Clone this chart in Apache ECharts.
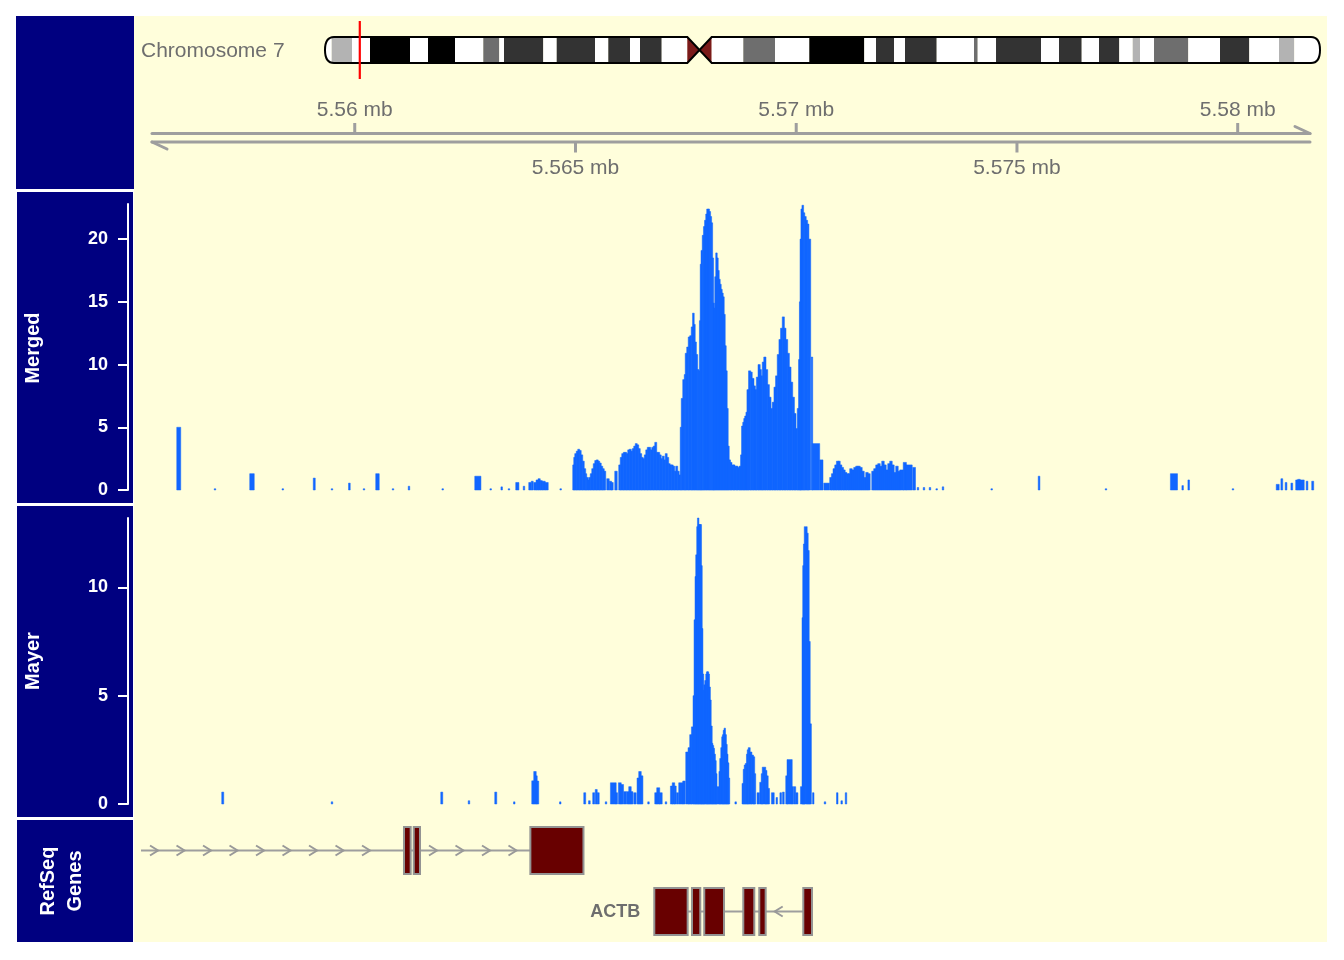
<!DOCTYPE html>
<html>
<head>
<meta charset="utf-8">
<script src="https://cdn.jsdelivr.net/npm/echarts@6/dist/echarts.min.js"></script>
<style>
html,body{margin:0;padding:0;background:#ffffff;}
#chart{width:1344px;height:960px;}
</style>
</head>
<body>
<div id="chart"></div>
<script>
// ---------------- DATA ----------------
const chromName = 'Chromosome 7';
const windowFromKb = 5555;   // plotted window (kb)
const windowToKb = 5582;

const axisTickValues = [5560, 5565, 5570, 5575, 5580];   // kb
const axisTickLabels = ['5.56 mb', '5.565 mb', '5.57 mb', '5.575 mb', '5.58 mb'];

const trackTitles = ['Merged', 'Mayer', 'RefSeq\nGenes'];

// chromosome 7 bands (Mb)
const bandStart = [0, 1.073, 4.324, 7.207, 13.613, 16.495, 20.820, 25.352, 27.914, 28.667, 34.961, 37.107, 43.241, 45.370, 48.846, 50.447, 53.923, 58.022, 59.976, 61.930, 66.991, 72.068, 77.561, 86.369, 88.243, 91.125, 92.887, 97.964, 103.937, 104.530, 107.461, 114.667, 117.550, 121.186, 123.956, 127.207, 129.353, 130.522, 132.764, 138.257, 143.334, 148.026, 152.783, 155.233];
const bandEnd = [1.073, 4.324, 7.207, 13.613, 16.495, 20.820, 25.352, 27.914, 28.667, 34.961, 37.107, 43.241, 45.370, 48.846, 50.447, 53.923, 58.022, 59.976, 61.930, 66.991, 72.068, 77.561, 86.369, 88.243, 91.125, 92.887, 97.964, 103.937, 104.530, 107.461, 114.667, 117.550, 121.186, 123.956, 127.207, 129.353, 130.522, 132.764, 138.257, 143.334, 148.026, 152.783, 155.233, 159.346];
const bandStain = ['gneg','gpos25','gneg','gpos100','gneg','gpos100','gneg','gpos50','gneg','gpos75','gneg','gpos75','gneg','gpos75','gneg','gpos75','gneg','acen','acen','gneg','gpos50','gneg','gpos100','gneg','gpos75','gneg','gpos75','gneg','gpos50','gneg','gpos75','gneg','gpos75','gneg','gpos75','gneg','gpos25','gneg','gpos50','gneg','gpos75','gneg','gpos25','gneg'];

// Merged coverage: value applies from break[i] to break[i+1] (kb); 0 = empty
const mergedBreaks = [5555.974,5556.053,5556.823,5556.846,5557.627,5557.718,5558.359,5558.382,5559.066,5559.100,5559.473,5559.496,5559.865,5559.892,5560.198,5560.221,5560.481,5560.549,5560.855,5560.878,5561.217,5561.240,5561.981,5562.003,5562.724,5562.853,5563.068,5563.091,5563.317,5563.340,5563.482,5563.505,5563.652,5563.713,5563.822,5563.845,5563.947,5563.992,5564.003,5564.037,5564.060,5564.105,5564.112,5564.151,5564.157,5564.196,5564.203,5564.241,5564.248,5564.309,5564.316,5564.377,5564.653,5564.676,
5564.943,5564.966,5564.989,5565.023,5565.057,5565.090,5565.124,5565.159,5565.193,5565.226,5565.249,5565.283,5565.306,5565.340,5565.374,5565.408,5565.442,5565.476,5565.510,5565.544,5565.578,5565.612,5565.646,5565.680,5565.713,5565.759,5565.770,5565.811,5565.849,5565.895,5565.940,
5565.985,5566.019,5566.053,5566.087,5566.121,5566.155,5566.189,5566.223,5566.257,5566.291,5566.325,5566.359,5566.393,5566.427,5566.461,5566.495,5566.529,5566.563,5566.597,5566.631,5566.665,5566.699,5566.733,5566.767,5566.801,5566.835,5566.869,5566.903,5566.937,5566.971,5567.005,5567.038,5567.072,5567.106,5567.140,5567.174,5567.208,5567.242,5567.276,5567.310,5567.344,
5567.378,5567.401,5567.435,5567.469,5567.491,5567.525,5567.559,5567.593,5567.627,5567.657,5567.684,5567.707,5567.734,5567.763,5567.790,5567.813,5567.831,5567.849,5567.877,5567.904,5567.929,5567.956,5567.978,5568.006,5568.031,5568.055,5568.078,5568.101,5568.119,5568.137,5568.160,5568.182,5568.205,5568.228,5568.250,5568.273,5568.296,5568.318,5568.341,5568.364,5568.386,5568.409,5568.431,5568.454,5568.477,
5568.506,5568.540,5568.574,5568.608,5568.642,5568.676,5568.710,5568.744,5568.767,5568.794,5568.817,5568.839,5568.866,5568.889,5568.925,5568.964,5568.998,5569.038,5569.070,5569.102,5569.140,5569.179,5569.206,5569.236,5569.270,5569.310,5569.349,5569.387,5569.424,5569.462,5569.501,5569.537,5569.575,5569.614,5569.650,5569.689,5569.727,5569.763,5569.802,5569.840,5569.877,5569.915,5569.954,5569.990,
5570.028,5570.058,5570.078,5570.092,5570.112,5570.135,5570.162,5570.189,5570.221,5570.253,5570.282,5570.323,5570.345,5570.368,5570.526,5570.538,5570.601,5570.629,5570.748,5570.764,5570.803,5570.839,5570.878,5570.916,5570.952,5570.991,5571.029,5571.066,5571.104,5571.143,5571.179,5571.217,5571.263,5571.308,5571.353,5571.399,5571.444,5571.489,5571.535,5571.580,5571.625,5571.670,
5571.716,5571.761,5571.806,5571.852,5571.897,5571.942,5571.988,5572.033,5572.078,5572.123,5572.169,5572.214,5572.259,5572.305,5572.350,5572.429,5572.490,5572.622,5572.644,5572.696,5572.746,5572.769,5572.882,5572.905,5573.018,5573.041,5573.170,5573.192,5573.313,5573.335,5574.416,5574.438,5575.487,5575.514,5577.005,5577.027,5578.481,5578.631,5578.742,5578.764,5578.878,5578.903,5579.881,5579.904,5580.878,5580.934,5580.984,5581.014,5581.081,5581.109,5581.211,5581.240,5581.319,5581.365,5581.410,5581.501,5581.557,5581.584,5581.682,5581.716];
const mergedValues = [5.0,0,0.1,0,1.3,0,0.1,0,0.95,0,0.1,0,0.55,0,0.1,0,1.3,0,0.1,0,0.3,0,0.1,0,1.1,0,0.1,0,0.25,0,0.1,0,0.6,0,0.3,0,0.6,0,0.7,0,0.6,0,0.8,0,0.9,0,0.75,0,0.7,0,0.6,0,0.1,0,
2.0,2.6,2.9,3.1,3.25,3.15,2.8,2.3,1.7,1.3,1.0,0.8,1.0,1.3,1.7,2.1,2.35,2.4,2.3,2.15,1.9,1.7,1.5,0,0.9,0,0.7,0.6,0,1.5,0,
2.0,2.6,2.9,3.0,3.0,2.9,3.2,3.25,3.1,3.3,3.5,3.7,3.6,3.3,2.9,2.6,2.5,2.8,3.2,3.4,3.4,3.2,3.4,3.5,3.8,3.0,3.0,2.8,2.5,2.7,2.4,2.9,2.6,2.1,2.0,2.0,1.9,1.5,1.9,1.5,1.2,
5.0,7.3,8.8,9.2,10.9,11.4,12.2,12.3,13.0,14.1,13.2,11.8,10.8,9.6,9.5,13.5,18.0,19.1,20.3,21.0,21.5,22.0,22.4,22.4,22.2,21.8,21.3,18.5,14.9,14.5,17.0,18.9,18.5,17.5,16.8,16.4,16.0,15.7,15.4,14.0,11.5,9.5,6.5,3.5,2.4,
2.2,2.0,2.0,1.9,1.9,1.8,1.9,2.8,5.1,5.4,5.7,5.9,6.2,8.0,9.5,9.4,8.9,8.3,8.0,9.0,10.0,9.6,9.1,10.2,10.6,9.6,8.4,7.4,6.5,7.0,8.2,9.1,10.8,12.0,12.9,13.8,12.9,12.0,10.9,9.8,8.6,7.4,6.1,4.9,
6.5,10.4,15.0,20.0,22.4,22.7,22.1,21.8,21.5,21.2,20.0,0,10.6,3.7,0,2.4,0,0.55,0,1.0,1.3,1.7,2.0,2.3,2.3,2.0,1.8,1.6,1.4,1.3,1.3,1.7,1.6,1.8,1.9,1.9,1.8,1.5,1.0,1.4,1.3,0,
1.5,1.7,2.0,2.1,1.9,2.3,2.0,1.6,2.1,2.3,2.0,1.4,1.9,1.5,1.6,2.2,2.0,0,1.8,0,0.2,0,0.2,0,0.2,0,0.1,0,0.25,0,0.1,0,1.1,0,0.1,0,1.3,0,0.35,0,0.8,0,0.1,0,0.45,0,0.9,0,0.6,0,0.55,0,0.8,0.85,0.8,0,0.7,0,0.7,0];

// Mayer coverage
const mayerBreaks = [5556.993,5557.027,5559.473,5559.496,5561.954,5561.988,5562.576,5562.599,5563.177,5563.211,5563.602,5563.625,5564.015,5564.060,5564.105,5564.128,5564.162,5564.644,5564.667,5565.193,5565.226,5565.301,5565.328,5565.396,5565.430,5565.453,5565.487,5565.498,5565.532,5565.680,5565.702,
5565.797,5565.917,5565.947,5565.978,5566.031,5566.083,5566.099,5566.144,5566.160,5566.212,5566.257,5566.296,5566.325,5566.370,5566.400,5566.438,5566.484,5566.522,5566.642,5566.665,5566.801,5566.846,5566.903,5566.959,5567.038,5567.061,5567.156,5567.197,5567.242,5567.276,5567.292,5567.328,5567.344,5567.435,5567.480,
5567.503,5567.555,5567.593,5567.632,5567.668,5567.691,5567.713,5567.729,5567.752,5567.768,5567.786,5567.804,5567.827,5567.843,5567.858,5567.877,5567.895,5567.911,5567.933,5567.956,5567.972,5567.990,5568.008,5568.028,5568.046,5568.069,5568.085,5568.103,5568.121,5568.142,5568.160,5568.178,5568.198,
5568.255,5568.273,5568.296,5568.318,5568.334,5568.352,5568.370,5568.391,5568.409,5568.427,5568.447,5568.465,5568.488,5568.617,5568.640,5568.778,5568.805,5568.828,5568.851,5568.878,5568.896,5568.918,5568.952,5568.991,5569.027,5569.054,5569.070,5569.118,5569.163,5569.179,5569.213,5569.236,5569.304,5569.331,5569.360,5569.390,
5569.444,5569.496,5569.548,5569.571,5569.636,5569.661,5569.695,5569.723,5569.768,5569.797,5569.904,5569.938,5569.956,5569.983,5569.994,5570.033,5570.101,5570.137,5570.153,5570.169,5570.187,5570.243,5570.266,5570.289,5570.311,5570.338,5570.375,5570.397,5570.640,5570.663,5570.918,5570.941,5571.018,5571.041,5571.116,5571.138];
const mayerValues = [0.55,0,0.1,0,0.55,0,0.15,0,0.55,0,0.1,0,1.07,1.5,1.3,1.06,0,0.1,0,0.52,0,0.15,0,0.52,0,0.67,0,0.52,0,0.1,0,
0.98,0.52,0,0.98,0.9,0,0.57,0,0.57,0.8,0.57,0,0.52,0,1.2,1.5,1.3,0,0.1,0,0.52,0.75,0.52,0,0.1,0,0.83,0.98,0.83,0,0.52,0,0.98,1.06,0,
2.4,2.6,3.2,3.56,5.0,8.5,10.5,11.5,12.8,13.2,12.9,12.9,12.9,11.0,8.1,6.0,5.25,5.5,5.7,6.0,6.1,6.1,6.0,5.4,4.8,3.6,2.8,2.7,2.57,2.3,2.0,1.4,0.8,
1.5,2.1,2.6,3.1,3.2,3.4,3.5,3.2,2.75,2.3,1.9,1.2,0,0.1,0,0.95,1.6,1.8,1.87,2.3,2.5,2.6,2.4,2.26,2.18,1.4,0,0.52,0,1.0,1.4,1.7,1.55,1.3,0.72,0,
0.52,0,0.3,0,0.52,0,0.55,0,1.3,2.05,0.8,0,0.8,0,0.52,0,0.8,8.6,11.0,12.0,12.8,12.5,11.7,7.5,3.7,0,0.52,0,0.1,0,0.52,0,0.15,0,0.52,0];

const mergedYMax = 22.8, mayerYMax = 13.2;
const mergedTicks = [0, 5, 10, 15, 20];
const mayerTicks = [0, 5, 10];

// RefSeq gene models (kb)
const txStart = [5555.159, 5566.785];
const txEnd = [5565.181, 5570.357];
const txStrand = ['+', '-'];
const txRow = [0, 1];
const txLabel = ['', 'ACTB'];
const exonTx = [0, 0, 0, 1, 1, 1, 1, 1, 1];
const exonStart = [5561.116, 5561.337, 5563.978, 5566.785, 5567.639, 5567.917, 5568.801, 5569.163, 5570.160];
const exonEnd = [5561.267, 5561.478, 5565.181, 5567.541, 5567.827, 5568.364, 5569.050, 5569.308, 5570.357];

// ---------------- STYLE ----------------
const FONT = '"Liberation Sans", Arial, Helvetica, sans-serif';
const NAVY = '#000080';
const PANEL = '#FFFEDB';
const BAR = '#1166FF';
const AXIS_GRAY = '#9E9E9E';
const TEXT_GRAY = '#6E6E6E';
const stainColor = {gneg:'#FFFFFF', gpos25:'#B3B3B3', gpos50:'#6E6E6E', gpos75:'#333333', gpos100:'#000000', acen:'#7A1A1A'};

function toBars(breaks, values) {
  const out = [];
  for (let i = 0; i < breaks.length - 1; i++) if (values[i] > 0) out.push([breaks[i], breaks[i + 1], values[i]]);
  return out;
}

function barRender(params, api) {
  const s = api.value(0), e = api.value(1), v = api.value(2);
  const p0 = api.coord([s, 0]), p1 = api.coord([e, v]);
  const w = Math.max(p1[0] - p0[0], 1);
  const h = Math.max(p0[1] - p1[1], 1);
  return {type: 'rect', shape: {x: p0[0] - 0.25, y: p0[1] - h, width: w + 0.5, height: h},
    style: {fill: BAR, stroke: BAR, lineWidth: 0.5}};
}

const ERX = 9; // ideogram end rounding
function bandRender(params, api) {
  const i = api.value(2);
  const cs = params.coordSys;
  const top = cs.y, bot = cs.y + cs.height, mid = (top + bot) / 2;
  const x0 = api.coord([api.value(0), 0])[0], x1 = api.coord([api.value(1), 0])[0];
  const stain = bandStain[i];
  const fill = stainColor[stain];
  if (stain === 'acen') {
    const first = bandStain[i - 1] !== 'acen';
    const pts = first ? [[x0, top], [x0, bot], [x1, mid]] : [[x1, top], [x1, bot], [x0, mid]];
    return {type: 'polygon', shape: {points: pts}, style: {fill: fill}};
  }
  if (i === 0) {
    return {type: 'path', shape: {pathData: `M ${x1} ${top} L ${x0 + ERX} ${top} Q ${x0} ${top} ${x0} ${mid} Q ${x0} ${bot} ${x0 + ERX} ${bot} L ${x1} ${bot} Z`}, style: {fill: fill}};
  }
  if (i === bandStain.length - 1) {
    return {type: 'path', shape: {pathData: `M ${x0} ${top} L ${x1 - ERX} ${top} Q ${x1} ${top} ${x1} ${mid} Q ${x1} ${bot} ${x1 - ERX} ${bot} L ${x0} ${bot} Z`}, style: {fill: fill}};
  }
  return {type: 'rect', shape: {x: x0, y: top, width: x1 - x0, height: bot - top}, style: {fill: fill}};
}

const acenIdx = bandStain.map((s, i) => s === 'acen' ? i : -1).filter(i => i >= 0);
const outlineData = [[bandStart[0], bandStart[acenIdx[0]], bandEnd[acenIdx[0]], bandEnd[acenIdx[acenIdx.length - 1]], bandEnd[bandEnd.length - 1]]];
function outlineRender(params, api) {
  const cs = params.coordSys;
  const top = cs.y, bot = cs.y + cs.height, mid = (top + bot) / 2;
  const a = api.coord([api.value(0), 0])[0], c0 = api.coord([api.value(1), 0])[0];
  const cm = api.coord([api.value(2), 0])[0], c1 = api.coord([api.value(3), 0])[0];
  const b = api.coord([api.value(4), 0])[0];
  const d = `M ${c0} ${top} L ${a + ERX} ${top} Q ${a} ${top} ${a} ${mid} Q ${a} ${bot} ${a + ERX} ${bot} L ${c0} ${bot} L ${cm} ${mid} L ${c1} ${bot} L ${b - ERX} ${bot} Q ${b} ${bot} ${b} ${mid} Q ${b} ${top} ${b - ERX} ${top} L ${c1} ${top} L ${cm} ${mid} Z`;
  return {type: 'path', shape: {pathData: d}, style: {fill: 'none', stroke: '#000', lineWidth: 2}};
}

function regionRender(params, api) {
  const cs = params.coordSys;
  const x0 = api.coord([api.value(0), 0])[0], x1 = api.coord([api.value(1), 0])[0];
  return {type: 'rect', shape: {x: x0, y: cs.y - 15, width: Math.max(x1 - x0, 0.2), height: cs.height + 30}, style: {fill: 'none', stroke: '#FF0000', lineWidth: 2}};
}

function axisLineRender(params, api) {
  const cs = params.coordSys;
  const left = cs.x + 18, right = cs.x + cs.width - 16;
  const yU = cs.y, yL = cs.y + cs.height;
  const st = {stroke: AXIS_GRAY, lineWidth: 3, lineCap: 'round'};
  return {type: 'group', children: [
    {type: 'line', shape: {x1: left, y1: yU, x2: right, y2: yU}, style: st},
    {type: 'line', shape: {x1: left, y1: yL, x2: right, y2: yL}, style: st},
    {type: 'line', shape: {x1: left, y1: yL, x2: left + 15, y2: yL + 7}, style: st},
    {type: 'line', shape: {x1: right, y1: yU, x2: right - 15, y2: yU - 7}, style: st}
  ]};
}

function axisTickRender(params, api) {
  const cs = params.coordSys;
  const idx = params.dataIndex;
  const x = api.coord([api.value(0), 0])[0];
  const yU = cs.y, yL = cs.y + cs.height;
  const up = idx % 2 === 0;
  const tick = up ? {x1: x, y1: yU - 10.5, x2: x, y2: yU} : {x1: x, y1: yL, x2: x, y2: yL + 10.5};
  const ly = up ? yU - 23 : yL + 26;
  return {type: 'group', children: [
    {type: 'line', shape: tick, style: {stroke: AXIS_GRAY, lineWidth: 3}},
    {type: 'text', x: x, y: ly, style: {text: axisTickLabels[idx], fill: TEXT_GRAY, font: '21px ' + FONT, align: 'center', verticalAlign: 'middle'}}
  ]};
}

function backboneRender(params, api) {
  const t = api.value(3);
  const row = txRow[t];
  const y = api.coord([txStart[t], row])[1];
  const xs = api.coord([txStart[t], row])[0], xe = api.coord([txEnd[t], row])[0];
  const children = [{type: 'line', shape: {x1: xs, y1: y, x2: xe, y2: y}, style: {stroke: AXIS_GRAY, lineWidth: 2}}];
  const ex = [];
  exonTx.forEach((tt, k) => { if (tt === t) ex.push([api.coord([exonStart[k], row])[0], api.coord([exonEnd[k], row])[0]]); });
  ex.sort((p, q) => p[0] - q[0]);
  const gaps = [];
  let cur = xs;
  ex.forEach(e => { if (e[0] > cur) gaps.push([cur, e[0]]); cur = Math.max(cur, e[1]); });
  if (xe > cur) gaps.push([cur, xe]);
  gaps.forEach(g => {
    for (let p = g[0] + 13; p <= g[1] - 16; p += 26.5) {
      const pts = txStrand[t] === '+' ? [[p - 4, y - 5], [p + 4, y], [p - 4, y + 5]] : [[p + 4, y - 5], [p - 4, y], [p + 4, y + 5]];
      children.push({type: 'polyline', shape: {points: pts}, style: {stroke: '#999999', lineWidth: 2, fill: 'none', lineJoin: 'miter'}});
    }
  });
  if (txLabel[t]) {
    children.push({type: 'text', x: xs - 14, y: y + 1, style: {text: txLabel[t], fill: TEXT_GRAY, font: 'bold 18px ' + FONT, align: 'right', verticalAlign: 'middle'}});
  }
  return {type: 'group', children: children};
}

function exonRender(params, api) {
  const row = api.value(2);
  const p0 = api.coord([api.value(0), row]), p1 = api.coord([api.value(1), row]);
  const h = api.size([0, 0.77])[1];
  return {type: 'rect', shape: {x: p0[0], y: p0[1] - h / 2, width: p1[0] - p0[0], height: h}, style: {fill: '#680000', stroke: '#939393', lineWidth: 2}};
}

// ---------------- CHART ----------------
const chart = echarts.init(document.getElementById('chart'), null, {renderer: 'canvas'});

const gridBase = {left: 134, width: 1192, containLabel: false, outerBoundsMode: 'none'};
const hiddenX = (gi, min, max) => ({type: 'value', gridIndex: gi, min: min, max: max, show: false});
const hiddenY = (gi, min, max, inv) => ({type: 'value', gridIndex: gi, min: min, max: max, show: false, inverse: !!inv});

function dataYAxis(gi, max, ticks) {
  return {
    type: 'value', gridIndex: gi, min: 0, max: max, position: 'left', offset: 6,
    axisLine: {show: true, onZero: false, lineStyle: {color: '#FFFFFF', width: 2}},
    axisTick: {show: true, length: 10, customValues: ticks, lineStyle: {color: '#FFFFFF', width: 2}},
    axisLabel: {show: true, customValues: ticks, color: '#FFFFFF', fontWeight: 'bold', fontSize: 18, fontFamily: FONT, margin: 20},
    splitLine: {show: false}
  };
}

const titleText = (txt, x, y) => ({
  type: 'text', x: x, y: y, rotation: Math.PI / 2, z: 5,
  style: {text: txt, fill: '#FFFFFF', font: 'bold 20px ' + FONT, align: 'center', verticalAlign: 'middle', textAlign: 'center', textVerticalAlign: 'middle', lineHeight: 27}
});

const option = {
  animation: false,
  backgroundColor: '#FFFFFF',
  graphic: {elements: [
    {type: 'rect', z: -10, shape: {x: 134, y: 16, width: 1193, height: 926}, style: {fill: PANEL}},
    {type: 'rect', z: -10, shape: {x: 16, y: 16, width: 118, height: 173}, style: {fill: NAVY}},
    {type: 'rect', z: -10, shape: {x: 17, y: 192, width: 116, height: 311}, style: {fill: NAVY}},
    {type: 'rect', z: -10, shape: {x: 17, y: 506, width: 116, height: 311}, style: {fill: NAVY}},
    {type: 'rect', z: -10, shape: {x: 17, y: 820, width: 116, height: 122}, style: {fill: NAVY}},
    titleText(trackTitles[0], 33, 348),
    titleText(trackTitles[1], 33, 661),
    titleText(trackTitles[2], 62, 881),
    {type: 'text', x: 141, y: 51, z: 5, style: {text: chromName, fill: TEXT_GRAY, font: '21px ' + FONT, align: 'left', verticalAlign: 'middle', textAlign: 'left', textVerticalAlign: 'middle'}}
  ]},
  grid: [
    {left: 325, width: 995, top: 37, height: 26, containLabel: false, outerBoundsMode: 'none'},
    Object.assign({}, gridBase, {top: 133.5, height: 8.5}),
    Object.assign({}, gridBase, {top: 204, height: 286}),
    Object.assign({}, gridBase, {top: 518, height: 286}),
    Object.assign({}, gridBase, {top: 820, height: 122})
  ],
  xAxis: [
    hiddenX(0, bandStart[0], bandEnd[bandEnd.length - 1]),
    hiddenX(1, windowFromKb, windowToKb),
    hiddenX(2, windowFromKb, windowToKb),
    hiddenX(3, windowFromKb, windowToKb),
    hiddenX(4, windowFromKb, windowToKb)
  ],
  yAxis: [
    hiddenY(0, 0, 1),
    hiddenY(1, 0, 1),
    dataYAxis(2, mergedYMax, mergedTicks),
    dataYAxis(3, mayerYMax, mayerTicks),
    hiddenY(4, -0.5, 1.5, true)
  ],
  series: [
    {type: 'custom', name: 'bands', xAxisIndex: 0, yAxisIndex: 0, clip: false, silent: true,
      data: bandStart.map((s, i) => [s, bandEnd[i], i]), encode: {x: [0, 1]}, renderItem: bandRender},
    {type: 'custom', name: 'outline', xAxisIndex: 0, yAxisIndex: 0, clip: false, silent: true, z: 3,
      data: outlineData, encode: {x: [0, 4]}, renderItem: outlineRender},
    {type: 'custom', name: 'region', xAxisIndex: 0, yAxisIndex: 0, clip: false, silent: true, z: 4,
      data: [[windowFromKb / 1000, windowToKb / 1000]], encode: {x: [0, 1]}, renderItem: regionRender},
    {type: 'custom', name: 'axisLine', xAxisIndex: 1, yAxisIndex: 1, clip: false, silent: true,
      data: [[windowFromKb, windowToKb]], encode: {x: [0, 1]}, renderItem: axisLineRender},
    {type: 'custom', name: 'axisTicks', xAxisIndex: 1, yAxisIndex: 1, clip: false, silent: true,
      data: axisTickValues.map(v => [v]), encode: {x: 0}, renderItem: axisTickRender},
    {type: 'custom', name: 'Merged', xAxisIndex: 2, yAxisIndex: 2, clip: false, silent: true,
      data: toBars(mergedBreaks, mergedValues), encode: {x: [0, 1], y: 2}, renderItem: barRender},
    {type: 'custom', name: 'Mayer', xAxisIndex: 3, yAxisIndex: 3, clip: false, silent: true,
      data: toBars(mayerBreaks, mayerValues), encode: {x: [0, 1], y: 2}, renderItem: barRender},
    {type: 'custom', name: 'backbone', xAxisIndex: 4, yAxisIndex: 4, clip: false, silent: true,
      data: txStart.map((s, t) => [s, txEnd[t], txRow[t], t]), encode: {x: [0, 1], y: 2}, renderItem: backboneRender},
    {type: 'custom', name: 'exons', xAxisIndex: 4, yAxisIndex: 4, clip: false, silent: true, z: 3,
      data: exonStart.map((s, k) => [s, exonEnd[k], txRow[exonTx[k]]]), encode: {x: [0, 1], y: 2}, renderItem: exonRender}
  ]
};
chart.setOption(option);
</script>
</body>
</html>
